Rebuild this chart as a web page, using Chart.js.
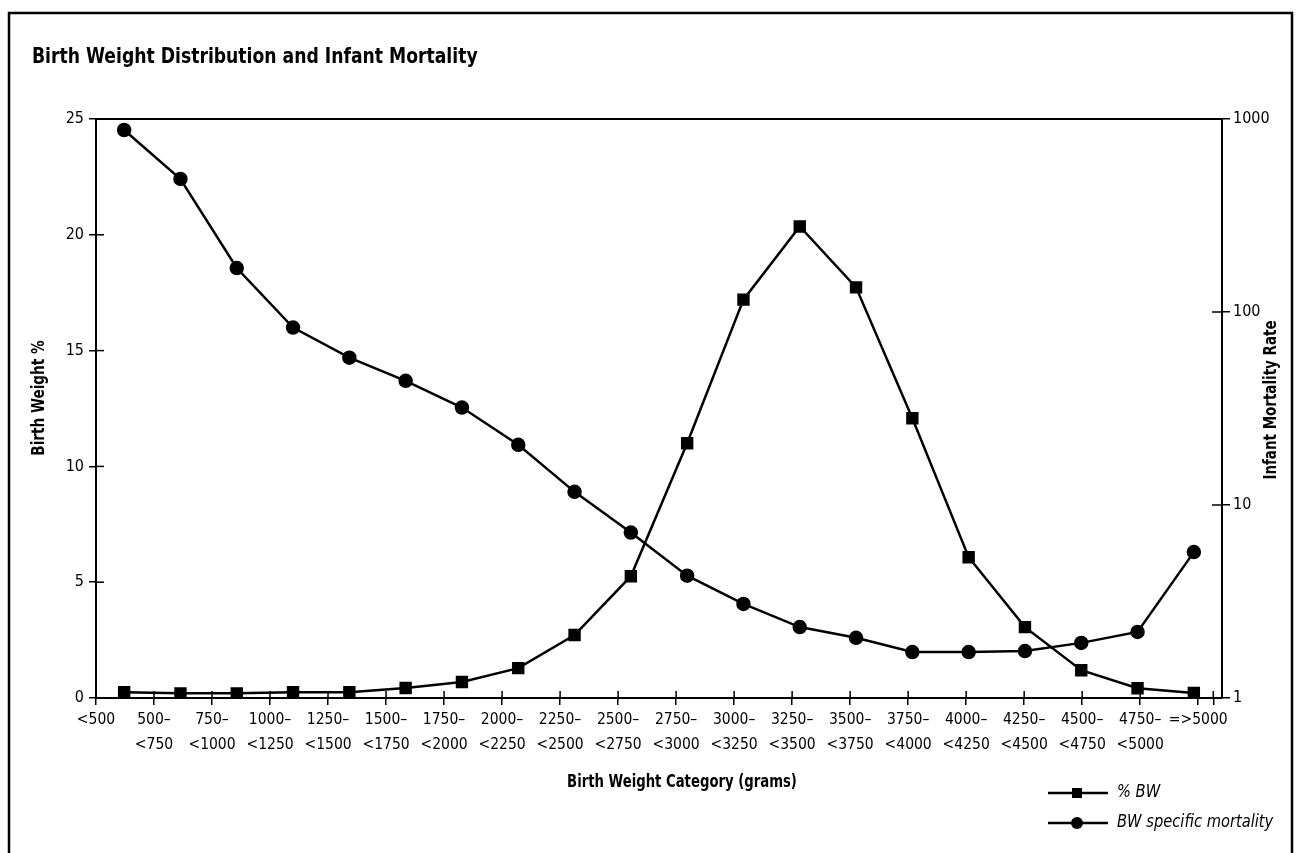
<!DOCTYPE html>
<html><head><meta charset="utf-8">
<script src="https://cdn.jsdelivr.net/npm/chart.js@4.4.1/dist/chart.umd.min.js"></script>
<style>html,body{margin:0;padding:0;background:#fff;overflow:hidden}#wrap{position:relative;width:1296px;height:853px}</style>
</head><body><div id="wrap"><canvas id="c" width="1296" height="853"></canvas></div>
<script>
// ---- data ----
const categories = ['<500','500–<750','750–<1000','1000–<1250','1250–<1500','1500–<1750','1750–<2000','2000–<2250','2250–<2500','2500–<2750','2750–<3000','3000–<3250','3250–<3500','3500–<3750','3750–<4000','4000–<4250','4250–<4500','4500–<4750','4750–<5000','=>5000'];
const tickLabels = [['<500'],['500–','<750'],['750–','<1000'],['1000–','<1250'],['1250–','<1500'],['1500–','<1750'],['1750–','<2000'],['2000–','<2250'],['2250–','<2500'],['2500–','<2750'],['2750–','<3000'],['3000–','<3250'],['3250–','<3500'],['3500–','<3750'],['3750–','<4000'],['4000–','<4250'],['4250–','<4500'],['4500–','<4750'],['4750–','<5000'],['=>5000']];
const pctBW = [0.25,0.2,0.2,0.25,0.25,0.43,0.69,1.29,2.72,5.26,11.0,17.2,20.36,17.73,12.08,6.08,3.06,1.2,0.42,0.22];
const mortality = [877,489,169,83,58,44,32,20.5,11.7,7.2,4.3,3.07,2.33,2.05,1.73,1.73,1.75,1.93,2.2,5.7];
const leftTicks = [0,5,10,15,20,25];
const rightTicks = [1,10,100,1000];
const labelTickPos = [0,1,2,3,4,5,6,7,8,9,10,11,12,13,14,15,16,17,18,19,19.26];

const FONT = '"Liberation Sans Narrow","Arial Narrow","DejaVu Sans Condensed",sans-serif';
Chart.defaults.font.family = FONT;
Chart.defaults.font.size = 16;
Chart.defaults.color = '#000';

function seg(ctx,x1,y1,x2,y2){ctx.beginPath();ctx.moveTo(x1,y1);ctx.lineTo(x2,y2);ctx.stroke();}
function txt(ctx,s,x,y,font,sx,align,rot){
  ctx.save(); ctx.translate(x,y); if(rot) ctx.rotate(rot); ctx.scale(sx,1);
  ctx.font = font; ctx.textAlign = align; ctx.textBaseline = 'middle';
  ctx.fillText(s,0,0); ctx.restore();
}

const decor = {
  id:'decor',
  afterDraw(chart){
    const ctx = chart.ctx, a = chart.chartArea;
    ctx.save();
    ctx.strokeStyle = '#000'; ctx.fillStyle = '#000';
    ctx.lineWidth = 2;
    seg(ctx,a.left,a.top,a.right,a.top);
    ctx.lineWidth = 1.5;
    const y = chart.scales.y, y2 = chart.scales.y2, xt = chart.scales.xt;
    y.ticks.forEach((t,i)=>{const p=y.getPixelForTick(i); seg(ctx,a.left,p,a.left+8,p);});
    y2.ticks.forEach((t,i)=>{const p=y2.getPixelForTick(i); seg(ctx,a.right-10,p,a.right,p);});
    xt.ticks.forEach((t,i)=>{const p=xt.getPixelForTick(i); seg(ctx,p,a.bottom-7,p,a.bottom);});
    // outer frame
    ctx.lineWidth = 2.5;
    ctx.beginPath(); ctx.moveTo(9,860); ctx.lineTo(9,13); ctx.lineTo(1292,13); ctx.lineTo(1292,860); ctx.stroke();
    // title
    txt(ctx,'Birth Weight Distribution and Infant Mortality',32,57,'bold 22px '+FONT,0.87,'left',0);
    // axis titles
    txt(ctx,'Birth Weight Category (grams)',682,783,'bold 17px '+FONT,0.865,'center',0);
    txt(ctx,'Birth Weight %',40,398,'bold 17px '+FONT,0.89,'center',-Math.PI/2);
    txt(ctx,'Infant Mortality Rate',1272,400,'bold 17px '+FONT,0.88,'center',-Math.PI/2);
    // legend
    ctx.lineWidth = 2.5;
    seg(ctx,1048,793,1108,793);
    ctx.fillRect(1072,788,10,10);
    seg(ctx,1048,823,1108,823);
    ctx.beginPath(); ctx.arc(1077,823,6,0,Math.PI*2); ctx.fill();
    txt(ctx,'% BW',1117,793,'italic 17px '+FONT,0.96,'left',0);
    txt(ctx,'BW specific mortality',1117,823,'italic 17px '+FONT,0.96,'left',0);
    ctx.restore();
  }
};

new Chart(document.getElementById('c'), {
  type:'line',
  data:{
    labels: categories,
    datasets:[
      {label:'% BW', data:pctBW, xAxisID:'x', yAxisID:'y', borderColor:'#000', backgroundColor:'#000', borderWidth:2.5, pointStyle:'rect', pointRadius:7, pointHoverRadius:7, tension:0},
      {label:'BW specific mortality', data:mortality, xAxisID:'x', yAxisID:'y2', borderColor:'#000', backgroundColor:'#000', borderWidth:2.5, pointStyle:'circle', pointRadius:6, pointHoverRadius:6, tension:0}
    ]
  },
  options:{
    responsive:false, devicePixelRatio:1, animation:false,
    layout:{padding:{top:119,left:0,right:0,bottom:0}},
    plugins:{legend:{display:false}, tooltip:{enabled:false}, title:{display:false}},
    scales:{
      x:{type:'category', offset:true, display:false},
      xt:{type:'linear', position:'bottom', min:0, max:19.41,
        afterBuildTicks(s){s.ticks = labelTickPos.map(v=>({value:v}));},
        afterFit(s){s.height = 155;},
        ticks:{autoSkip:false, maxRotation:0, minRotation:0, padding:2, font:{size:15.5, lineHeight:1.65},
          callback:(v,i)=> tickLabels[i] ? tickLabels[i] : ''},
        grid:{drawOnChartArea:false, tickLength:7, color:'#000', lineWidth:1.5},
        border:{display:true, color:'#000', width:2}
      },
      y:{type:'linear', position:'left', min:0, max:25,
        afterBuildTicks(s){s.ticks = leftTicks.map(v=>({value:v}));},
        afterFit(s){s.width = 96;},
        ticks:{padding:5, font:{size:16}},
        grid:{drawOnChartArea:false, tickLength:7, color:'#000', lineWidth:1.5},
        border:{display:true, color:'#000', width:2}
      },
      y2:{type:'logarithmic', position:'right', min:1, max:1000,
        afterBuildTicks(s){s.ticks = rightTicks.map(v=>({value:v}));},
        afterFit(s){s.width = 74;},
        ticks:{padding:3, font:{size:16}, callback:(v)=>String(v)},
        grid:{drawOnChartArea:false, tickLength:8, color:'#000', lineWidth:1.5},
        border:{display:true, color:'#000', width:2}
      }
    }
  },
  plugins:[decor]
});
</script></body></html>
